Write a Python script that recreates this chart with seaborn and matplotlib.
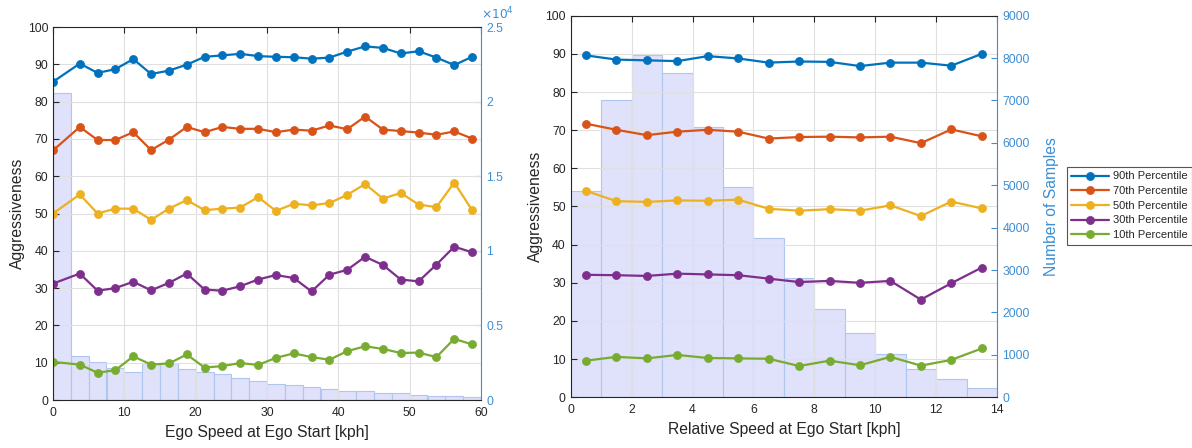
import numpy as np
import pandas as pd
import matplotlib
matplotlib.use("Agg")
import matplotlib.pyplot as plt
from matplotlib.ticker import FuncFormatter, MultipleLocator
import seaborn as sns

# ---------------- data ----------------
series_names = ["90th Percentile", "70th Percentile", "50th Percentile",
                "30th Percentile", "10th Percentile"]
series_colors = ["#0072BD", "#D95319", "#EDB120", "#7E2F8E", "#77AC30"]

# Left panel: ego speed
ego_speed = [0, 3.75, 6.25, 8.75, 11.25, 13.75, 16.25, 18.75, 21.25, 23.75,
             26.25, 28.75, 31.25, 33.75, 36.25, 38.75, 41.25, 43.75, 46.25,
             48.75, 51.25, 53.75, 56.25, 58.75]
ego_p90 = [85.3, 90.2, 87.7, 88.7, 91.4, 87.4, 88.3, 89.9, 92.0, 92.4, 92.8, 92.2,
           92.0, 91.9, 91.5, 91.8, 93.4, 94.8, 94.4, 92.9, 93.5, 91.8, 89.8, 92.0]
ego_p70 = [66.9, 73.2, 69.7, 69.7, 71.8, 67.0, 69.8, 73.2, 71.8, 73.2, 72.7, 72.7,
           71.8, 72.5, 72.2, 73.6, 72.6, 76.0, 72.5, 72.1, 71.7, 71.1, 72.0, 70.1]
ego_p50 = [50.0, 55.1, 50.0, 51.3, 51.3, 48.3, 51.3, 53.6, 50.9, 51.3, 51.6, 54.4,
           50.7, 52.6, 52.2, 52.8, 55.0, 57.9, 54.0, 55.5, 52.4, 51.7, 58.3, 50.9]
ego_p30 = [31.2, 33.9, 29.3, 30.0, 31.7, 29.4, 31.4, 33.9, 29.6, 29.3, 30.5, 32.3,
           33.5, 32.7, 29.1, 33.6, 34.9, 38.4, 36.2, 32.3, 31.8, 36.3, 41.1, 39.6]
ego_p10 = [10.2, 9.5, 7.3, 8.0, 11.7, 9.5, 9.8, 12.2, 8.7, 9.1, 9.9, 9.4,
           11.3, 12.5, 11.5, 10.8, 13.1, 14.4, 13.7, 12.6, 12.7, 11.5, 16.4, 14.9]
ego_bin_edges = [0, 2.5, 5, 7.5, 10, 12.5, 15, 17.5, 20, 22.5, 25, 27.5, 30,
                 32.5, 35, 37.5, 40, 42.5, 45, 47.5, 50, 52.5, 55, 57.5, 60]
ego_counts = [20550, 2950, 2560, 2150, 1890, 2500, 2470, 2100, 1900, 1720, 1495,
              1270, 1070, 980, 870, 735, 580, 580, 445, 445, 357, 290, 268, 223]

# Right panel: relative speed
rel_speed = [0.5, 1.5, 2.5, 3.5, 4.5, 5.5, 6.5, 7.5, 8.5, 9.5, 10.5, 11.5, 12.5, 13.5]
rel_p90 = [89.6, 88.5, 88.3, 88.1, 89.4, 88.8, 87.7, 88.0, 87.9, 86.8, 87.7, 87.7, 86.9, 90.0]
rel_p70 = [71.7, 70.1, 68.7, 69.6, 70.1, 69.6, 67.8, 68.2, 68.3, 68.1, 68.3, 66.6, 70.2, 68.4]
rel_p50 = [54.1, 51.4, 51.2, 51.6, 51.5, 51.8, 49.4, 48.9, 49.3, 48.9, 50.3, 47.5, 51.3, 49.5]
rel_p30 = [32.1, 32.0, 31.8, 32.4, 32.2, 32.0, 31.1, 30.2, 30.5, 30.0, 30.5, 25.6, 29.9, 34.0]
rel_p10 = [9.6, 10.6, 10.2, 11.1, 10.3, 10.2, 10.1, 8.2, 9.6, 8.4, 10.6, 8.3, 9.8, 12.8]
rel_bin_edges = [0, 1, 2, 3, 4, 5, 6, 7, 8, 9, 10, 11, 12, 13, 14]
rel_counts = [4860, 7020, 8070, 7650, 6370, 4950, 3750, 2810, 2090, 1505,
              1015, 670, 425, 230]

# ---------------- style ----------------
sns.set_theme(style="white")
plt.rcParams["font.family"] = ["Liberation Sans", "DejaVu Sans"]
DARK = "#262626"
AXBLUE = "#3D8FD4"
HIST_FACE = "#E0E1FA"
HIST_EDGE = "#AFC6EE"
GRID = "#E0E0E0"
TICK_FS = 8.8
LABEL_FS = 11.3

fig = plt.figure(figsize=(11.92, 4.48), dpi=100)
ax_l = fig.add_axes([53 / 1192, 48 / 448, 428 / 1192, 373 / 448])
ax_r = fig.add_axes([570.7 / 1192, 50.7 / 448, 426.3 / 1192, 381.6 / 448])


def draw_panel(ax, x, series, edges, counts, xlim, xstep, ymax_right, ystep_right,
               xlabel, right_label, sci):
    ax2 = ax.twinx()
    centers = [(edges[i] + edges[i + 1]) / 2 for i in range(len(counts))]
    sns.histplot(x=centers, weights=counts, bins=edges, ax=ax2,
                 color=HIST_FACE, edgecolor=HIST_EDGE, linewidth=0.8,
                 alpha=1.0, element="bars", legend=False)
    ax2.set_ylim(0, ymax_right)
    ax2.yaxis.set_major_locator(MultipleLocator(ystep_right))
    if sci:
        ax2.yaxis.set_major_formatter(FuncFormatter(lambda v, p: f"{v / 1e4:g}"))
        ax2.text(1.0, 1.012, r"$\times10^4$", transform=ax2.transAxes,
                 color=AXBLUE, fontsize=TICK_FS, ha="left", va="bottom")
    else:
        ax2.yaxis.set_major_formatter(FuncFormatter(lambda v, p: f"{v:.0f}"))
    ax2.set_ylabel(right_label, color=AXBLUE, fontsize=LABEL_FS, labelpad=10)
    ax2.tick_params(axis="y", colors=AXBLUE, labelsize=TICK_FS, direction="in",
                    length=4, width=0.8, pad=4)
    for sp in ax2.spines.values():
        sp.set_visible(False)

    # lines on top
    ax.set_zorder(ax2.get_zorder() + 1)
    ax.patch.set_visible(False)
    for name, vals, col in zip(series_names, series, series_colors):
        sns.lineplot(x=x, y=vals, ax=ax, color=col, marker="o", markersize=5.8,
                     markeredgecolor=col, markeredgewidth=0.5, linewidth=1.6,
                     label=name, legend=False)
    ax.set_xlim(*xlim)
    ax.set_ylim(0, 100)
    ax.xaxis.set_major_locator(MultipleLocator(xstep))
    ax.yaxis.set_major_locator(MultipleLocator(10))
    ax.grid(True, color=GRID, linewidth=0.8)
    ax.set_axisbelow(True)
    ax.set_xlabel(xlabel, color=DARK, fontsize=LABEL_FS, labelpad=4)
    ax.set_ylabel("Aggressiveness", color=DARK, fontsize=LABEL_FS, labelpad=2)
    ax.tick_params(axis="both", colors=DARK, labelsize=TICK_FS, direction="in",
                   length=4, width=0.8, top=True)
    ax.tick_params(axis="x", pad=5)
    for side in ["left", "bottom", "top"]:
        ax.spines[side].set_visible(True)
        ax.spines[side].set_color(DARK)
        ax.spines[side].set_linewidth(0.8)
    ax.spines["right"].set_visible(True)
    ax.spines["right"].set_color(AXBLUE)
    ax.spines["right"].set_linewidth(0.8)
    return ax2


draw_panel(ax_l, ego_speed, [ego_p90, ego_p70, ego_p50, ego_p30, ego_p10],
           ego_bin_edges, ego_counts, (0, 60), 10, 25000, 5000,
           "Ego Speed at Ego Start [kph]", "", True)
draw_panel(ax_r, rel_speed, [rel_p90, rel_p70, rel_p50, rel_p30, rel_p10],
           rel_bin_edges, rel_counts, (0, 14), 2, 9000, 1000,
           "Relative Speed at Ego Start [kph]", "Number of Samples", False)

handles, labels = ax_r.get_legend_handles_labels()
leg = fig.legend(handles, labels, loc="upper left",
                 bbox_to_anchor=(1067 / 1192, 1 - 167 / 448),
                 fontsize=8, frameon=True, fancybox=False, framealpha=1,
                 edgecolor="#555555", handlelength=3.4, handletextpad=0.3,
                 labelspacing=0.42, borderpad=0.4, borderaxespad=0)
leg.get_frame().set_linewidth(0.8)
for t in leg.get_texts():
    t.set_color(DARK)

fig.savefig("out.png", dpi=100)
